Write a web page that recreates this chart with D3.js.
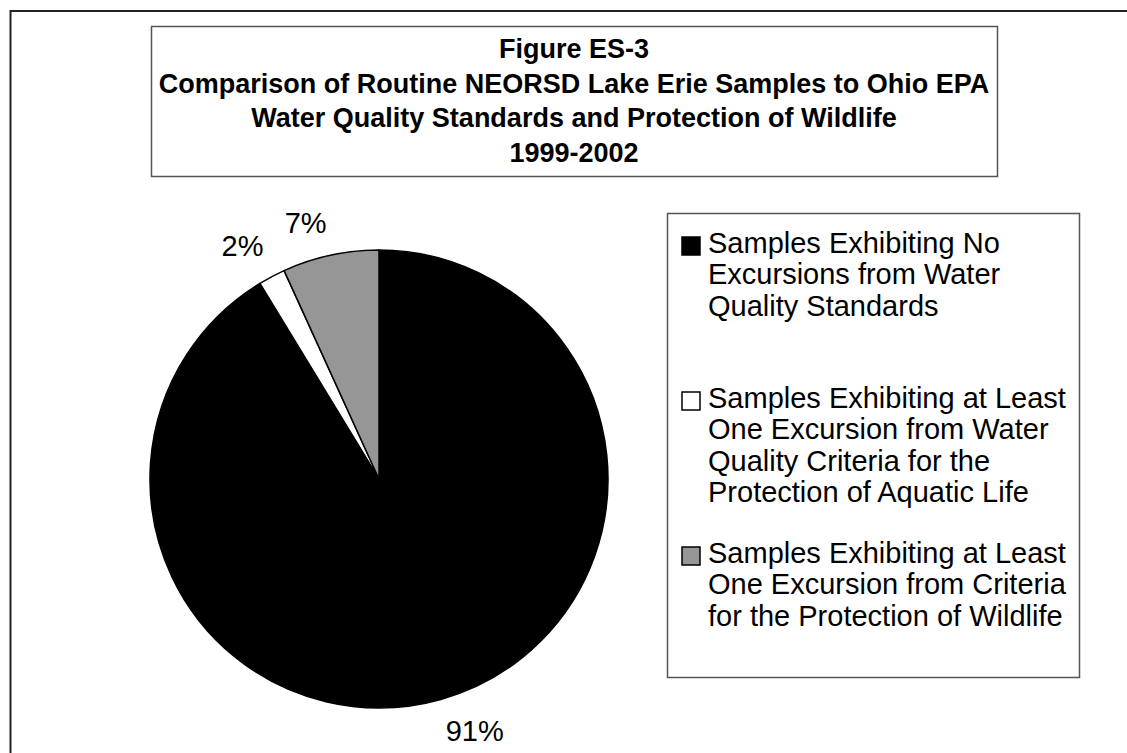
<!DOCTYPE html>
<html>
<head>
<meta charset="utf-8">
<script src="https://cdn.jsdelivr.net/npm/d3@7"></script>
<style>
  body { margin: 0; background: #fff; }
  svg { display: block; font-family: "Liberation Sans", Arial, sans-serif; }
</style>
</head>
<body>
<svg></svg>
<script>
// data
let categories = [
    'Samples Exhibiting No Excursions from Water Quality Standards',
    'Samples Exhibiting at Least One Excursion from Water Quality Criteria for the Protection of Aquatic Life',
    'Samples Exhibiting at Least One Excursion from Criteria for the Protection of Wildlife'
]
let values = [91.3, 1.9, 6.8]
let percentLabels = ['91%', '2%', '7%']
let legendLines = [
    ['Samples Exhibiting No', 'Excursions from Water', 'Quality Standards'],
    ['Samples Exhibiting at Least', 'One Excursion from Water', 'Quality Criteria for the', 'Protection of Aquatic Life'],
    ['Samples Exhibiting at Least', 'One Excursion from Criteria', 'for the Protection of Wildlife']
]
let fills = ['#000000', '#ffffff', '#969696']
let titleLines = [
    'Figure ES-3',
    'Comparison of Routine NEORSD Lake Erie Samples to Ohio EPA',
    'Water Quality Standards and Protection of Wildlife',
    '1999-2002'
]

let width = 1127
let height = 753

let cx = 379
let cy = 479
let radius = 229
let labelRadius = 247

let svg = d3.select('svg')
    .attr('width', width)
    .attr('height', height)

// outer frame (runs off the right and bottom edges)
svg.append('rect')
    .attr('x', 10.5)
    .attr('y', 11)
    .attr('width', width + 20)
    .attr('height', height + 20)
    .attr('fill', 'none')
    .attr('stroke', '#222')
    .attr('stroke-width', 2)

// title box
svg.append('rect')
    .attr('x', 151.5)
    .attr('y', 26.5)
    .attr('width', 846)
    .attr('height', 150)
    .attr('fill', '#fff')
    .attr('stroke', '#555')
    .attr('stroke-width', 1.5)

let titleScale = d3.scalePoint()
    .domain(d3.range(titleLines.length))
    .range([58, 162])

svg.append('g')
    .selectAll('text')
    .data(titleLines)
    .enter()
    .append('text')
    .attr('x', 574)
    .attr('y', (d, i) => titleScale(i))
    .attr('text-anchor', 'middle')
    .attr('font-weight', 'bold')
    .attr('font-size', '27px')
    .attr('fill', '#000')
    .text(d => d)

// pie
let pie = d3.pie().sort(null).value(d => d)
let arcs = pie(values)
let arc = d3.arc().innerRadius(0).outerRadius(radius)

let pieG = svg.append('g')
    .attr('transform', 'translate(' + cx + ',' + cy + ')')

pieG.selectAll('path')
    .data(arcs)
    .enter()
    .append('path')
    .attr('d', arc)
    .attr('fill', (d, i) => fills[i])
    .attr('stroke', '#000')
    .attr('stroke-width', 1.5)
    .attr('stroke-linejoin', 'round')

// percentage labels just outside the rim
pieG.selectAll('text')
    .data(arcs)
    .enter()
    .append('text')
    .attr('x', d => {
        let a = (d.startAngle + d.endAngle) / 2
        return labelRadius * Math.sin(a)
    })
    .attr('y', d => {
        let a = (d.startAngle + d.endAngle) / 2
        let y = -labelRadius * Math.cos(a)
        return Math.cos(a) > 0 ? y - 5 : y + 24
    })
    .attr('text-anchor', d => {
        let a = (d.startAngle + d.endAngle) / 2
        return Math.sin(a) >= 0 ? 'start' : 'end'
    })
    .attr('font-size', '29px')
    .attr('fill', '#000')
    .text((d, i) => percentLabels[i])

// legend
svg.append('rect')
    .attr('x', 667.5)
    .attr('y', 213.5)
    .attr('width', 412)
    .attr('height', 464)
    .attr('fill', '#fff')
    .attr('stroke', '#555')
    .attr('stroke-width', 1.5)

let legendScale = d3.scalePoint()
    .domain(categories)
    .range([253, 563])

let items = svg.append('g')
    .selectAll('g')
    .data(categories)
    .enter()
    .append('g')
    .attr('transform', d => 'translate(0,' + legendScale(d) + ')')

items.append('rect')
    .attr('x', 682)
    .attr('y', -16)
    .attr('width', 18)
    .attr('height', 18)
    .attr('fill', (d, i) => fills[i])
    .attr('stroke', '#000')
    .attr('stroke-width', 1.5)

items.append('text')
    .attr('font-size', '29px')
    .attr('fill', '#000')
    .selectAll('tspan')
    .data((d, i) => legendLines[i])
    .enter()
    .append('tspan')
    .attr('x', 708)
    .attr('y', (d, j) => j * 31.3)
    .text(d => d)
</script>
</body>
</html>
